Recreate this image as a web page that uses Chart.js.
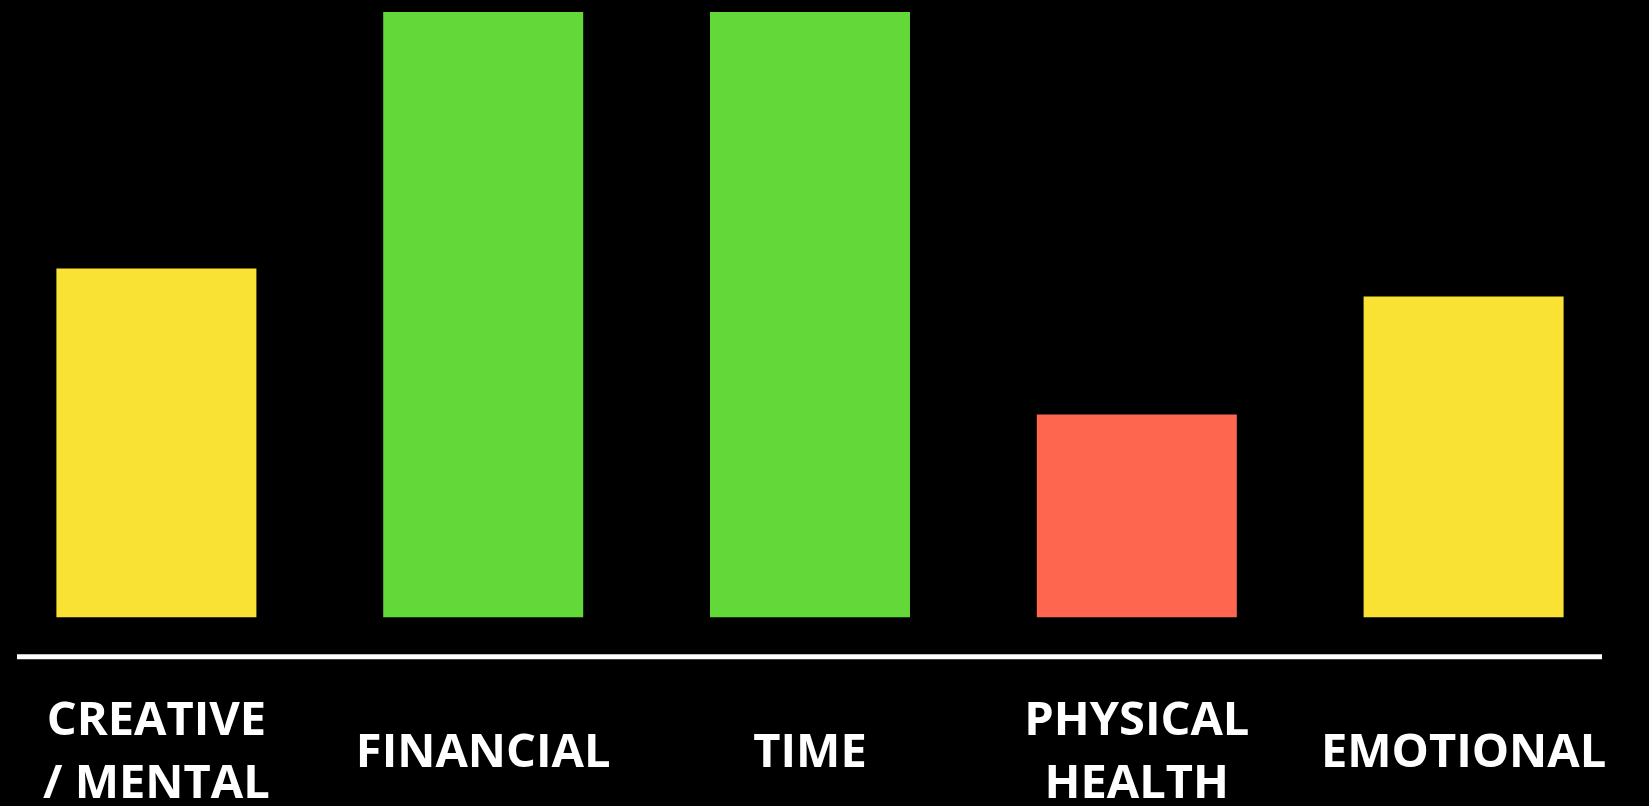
<!DOCTYPE html>
<html>
<head>
<meta charset="utf-8">
<script src="https://cdn.jsdelivr.net/npm/chart.js@4/dist/chart.umd.min.js"></script>
<style>
  html, body { margin: 0; padding: 0; background: #000; overflow: hidden; }
  /* first bar sits slightly left of the frame and the labels run to the bottom edge */
  #wrap { position: relative; width: 1656px; height: 849px; margin-left: -7px; }
</style>
</head>
<body>
<div id="wrap"><canvas id="chart"></canvas></div>
<script>
const categories = [['CREATIVE', '/ MENTAL'], 'FINANCIAL', 'TIME', ['PHYSICAL', 'HEALTH'], 'EMOTIONAL'];
const values = [57.6, 100, 100, 33.5, 53];
const barColors = ['#F9E234', '#62D938', '#62D938', '#FF6650', '#F9E234'];

// white rule under the bars
const baseLine = {
    id: 'baseLine',
    afterDraw(chart) {
        const ctx = chart.ctx;
        const y = chart.chartArea.bottom + 0.5;
        ctx.save();
        ctx.strokeStyle = '#fff';
        ctx.lineWidth = 5;
        ctx.beginPath();
        ctx.moveTo(24, y);
        ctx.lineTo(1609, y);
        ctx.stroke();
        ctx.restore();
    }
};

const ctx = document.getElementById('chart').getContext('2d');
new Chart(ctx, {
    type: 'bar',
    data: {
        labels: categories,
        datasets: [{
            data: values,
            backgroundColor: barColors,
            borderWidth: 0,
            barPercentage: 0.612,
            categoryPercentage: 1
        }]
    },
    options: {
        responsive: true,
        maintainAspectRatio: false,
        animation: false,
        layout: {
            padding: { left: 0, right: 22, top: 12, bottom: 0 }
        },
        plugins: {
            legend: { display: false },
            tooltip: { enabled: false }
        },
        scales: {
            x: {
                grid: { display: false, drawTicks: true, tickLength: 65 },
                border: { display: false },
                ticks: {
                    color: '#fff',
                    padding: 0,
                    crossAlign: 'center',
                    maxRotation: 0,
                    autoSkip: false,
                    font: { family: 'Open Sans', weight: 'bold', size: 47, lineHeight: 1.36 }
                }
            },
            y: {
                display: false,
                min: -6.45,
                max: 100
            }
        }
    },
    plugins: [baseLine]
});
</script>
</body>
</html>
